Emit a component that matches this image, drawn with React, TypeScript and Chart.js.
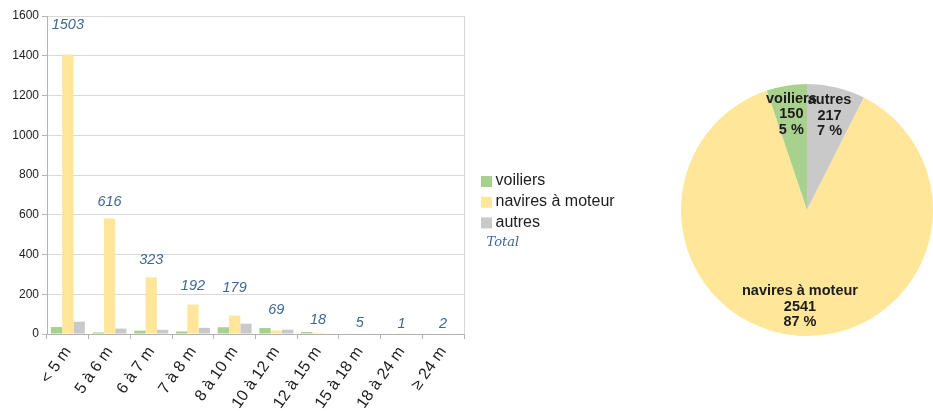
import React, { useEffect, useRef } from 'react';
import { Chart, registerables } from 'chart.js';

Chart.register(...registerables);

// ---------- data ----------
const categories = ['< 5 m', '5 à 6 m', '6 à 7 m', '7 à 8 m', '8 à 10 m', '10 à 12 m', '12 à 15 m', '15 à 18 m', '18 à 24 m', '≥ 24 m'];
const voiliers = [35, 8, 17, 13, 34, 30, 10, 3, 0, 0];
const navires = [1406, 581, 285, 148, 93, 17, 6, 2, 1, 2];
const autres = [62, 27, 21, 31, 52, 22, 2, 0, 0, 0];
const totals = [1503, 616, 323, 192, 179, 69, 18, 5, 1, 2];
const yMin = 0;
const yMax = 1600;
const yStep = 200;

const seriesNames = ['voiliers', 'navires à moteur', 'autres'];
const totalName = 'Total';

const pieLabels = ['autres', 'navires à moteur', 'voiliers'];
const pieValues = [217, 2541, 150];

// ---------- styles ----------
const GREEN = '#a9d18e';
const YELLOW = '#ffe699';
const GRAY = '#c9c9c9';
const BLUE = '#3f6896';
const TEXT = '#1c1c1c';
const GRID = '#d9d9d9';
const AXIS = '#b3b3b3';
const SANS = '"Liberation Sans", Arial, sans-serif';

const totalLabelsPlugin = {
  id: 'totalLabels',
  afterDatasetsDraw(chart: any) {
    const ctx = chart.ctx;
    const idx = chart.data.datasets.findIndex((d: any) => d.label === totalName);
    if (idx < 0) return;
    const meta = chart.getDatasetMeta(idx);
    ctx.save();
    ctx.font = `italic 14.5px ${SANS}`;
    ctx.fillStyle = BLUE;
    ctx.textAlign = 'center';
    ctx.textBaseline = 'middle';
    meta.data.forEach((pt: any, i: number) => {
      ctx.fillText(String(chart.data.datasets[idx].data[i]), pt.x, pt.y - 10);
    });
    ctx.restore();
  },
};

const frameLegendPlugin = {
  id: 'frameLegend',
  beforeDatasetsDraw(chart: any) {
    const { ctx, chartArea } = chart;
    ctx.save();
    ctx.strokeStyle = GRID;
    ctx.lineWidth = 1;
    ctx.beginPath();
    const x = Math.round(chartArea.right) + 0.5;
    ctx.moveTo(x, chartArea.top);
    ctx.lineTo(x, chartArea.bottom);
    ctx.stroke();
    ctx.restore();
  },
  afterDraw(chart: any) {
    const { ctx, chartArea } = chart;
    const x0 = chartArea.right + 17;
    const top = chart.height / 2 - 24.5;
    const rowH = 20.7;
    const colors = [GREEN, YELLOW, GRAY];
    ctx.save();
    ctx.textBaseline = 'middle';
    ctx.textAlign = 'left';
    seriesNames.forEach((name, i) => {
      const cy = top + i * rowH;
      ctx.fillStyle = colors[i];
      ctx.fillRect(x0, cy - 5, 11, 11);
      ctx.fillStyle = TEXT;
      ctx.font = `16px ${SANS}`;
      ctx.fillText(name, x0 + 14.5, cy);
    });
    ctx.fillStyle = BLUE;
    ctx.font = `italic 13px "DejaVu Serif", serif`;
    ctx.fillText(totalName, x0 + 5.5, top + 3 * rowH);
    ctx.restore();
  },
};

const pieLabelsPlugin = {
  id: 'pieLabels',
  afterDatasetsDraw(chart: any) {
    const ctx = chart.ctx;
    const meta = chart.getDatasetMeta(0);
    const values: number[] = chart.data.datasets[0].data;
    const sum = values.reduce((a, b) => a + b, 0);
    ctx.save();
    ctx.font = `bold 14.5px ${SANS}`;
    ctx.fillStyle = TEXT;
    ctx.textAlign = 'center';
    ctx.textBaseline = 'middle';
    meta.data.forEach((arc: any, i: number) => {
      const p = arc.getProps(['x', 'y', 'startAngle', 'endAngle', 'outerRadius'], true);
      const mid = (p.startAngle + p.endAngle) / 2;
      const r = p.outerRadius * 0.77;
      const cx = p.x + Math.cos(mid) * r;
      const cy = p.y + Math.sin(mid) * r;
      const lines = [
        chart.data.labels[i],
        String(values[i]),
        `${Math.round((values[i] / sum) * 100)} %`,
      ];
      lines.forEach((t, k) => ctx.fillText(t, cx, cy + (k - 1) * 15.5));
    });
    ctx.restore();
  },
};

function BarChart() {
  const ref = useRef<HTMLCanvasElement>(null);
  useEffect(() => {
    const chart = new Chart(ref.current!, {
      type: 'bar',
      data: {
        labels: categories,
        datasets: [
          { type: 'bar', label: seriesNames[0], data: voiliers, backgroundColor: GREEN, borderWidth: 0, categoryPercentage: 0.815, barPercentage: 1 },
          { type: 'bar', label: seriesNames[1], data: navires, backgroundColor: YELLOW, borderWidth: 0, categoryPercentage: 0.815, barPercentage: 1 },
          { type: 'bar', label: seriesNames[2], data: autres, backgroundColor: GRAY, borderWidth: 0, categoryPercentage: 0.815, barPercentage: 1 },
          { type: 'line', label: totalName, data: totals, showLine: false, pointRadius: 0, pointHoverRadius: 0, pointHitRadius: 0, borderColor: 'rgba(0,0,0,0)', backgroundColor: 'rgba(0,0,0,0)' } as any,
        ],
      },
      options: {
        animation: false,
        responsive: false,
        maintainAspectRatio: false,
        layout: { padding: { top: 16, right: 196, left: 0, bottom: 0 } },
        plugins: {
          legend: { display: false },
          tooltip: { enabled: false },
        },
        scales: {
          x: {
            offset: true,
            grid: { display: true, drawOnChartArea: false, offset: true, tickLength: 5, tickColor: AXIS, color: AXIS },
            border: { display: true, color: AXIS },
            ticks: {
              autoSkip: false,
              minRotation: 55,
              maxRotation: 55,
              padding: 4,
              color: TEXT,
              font: { family: SANS, size: 16 },
            },
            afterFit(scale: any) { scale.height = 77; },
          },
          y: {
            min: yMin,
            max: yMax,
            ticks: {
              stepSize: yStep,
              color: TEXT,
              padding: 3,
              font: { family: SANS, size: 12 },
              callback: (v: any) => String(v),
            },
            grid: { color: GRID, tickColor: AXIS, tickLength: 5 },
            border: { display: true, color: AXIS },
            afterFit(scale: any) { scale.width = 47; },
          },
        },
      },
      plugins: [frameLegendPlugin, totalLabelsPlugin],
    });
    return () => chart.destroy();
  }, []);
  return <canvas ref={ref} width={660} height={411} style={{ position: 'absolute', left: 0, top: 0, width: 660, height: 411 }} />;
}

function PieChart() {
  const ref = useRef<HTMLCanvasElement>(null);
  useEffect(() => {
    const chart = new Chart(ref.current!, {
      type: 'pie',
      data: {
        labels: pieLabels,
        datasets: [{ data: pieValues, backgroundColor: [GRAY, YELLOW, GREEN], borderWidth: 0 }],
      },
      options: {
        animation: false,
        responsive: false,
        maintainAspectRatio: false,
        layout: { padding: { top: 84, bottom: 75, left: 0, right: 0 } },
        plugins: { legend: { display: false }, tooltip: { enabled: false } },
      },
      plugins: [pieLabelsPlugin],
    });
    return () => chart.destroy();
  }, []);
  return <canvas ref={ref} width={252} height={411} style={{ position: 'absolute', left: 681, top: 0, width: 252, height: 411 }} />;
}

export default function App() {
  return (
    <div style={{ position: 'fixed', left: 0, top: 0, width: 933, height: 411, background: '#fff', overflow: 'hidden' }}>
      <BarChart />
      <PieChart />
    </div>
  );
}
